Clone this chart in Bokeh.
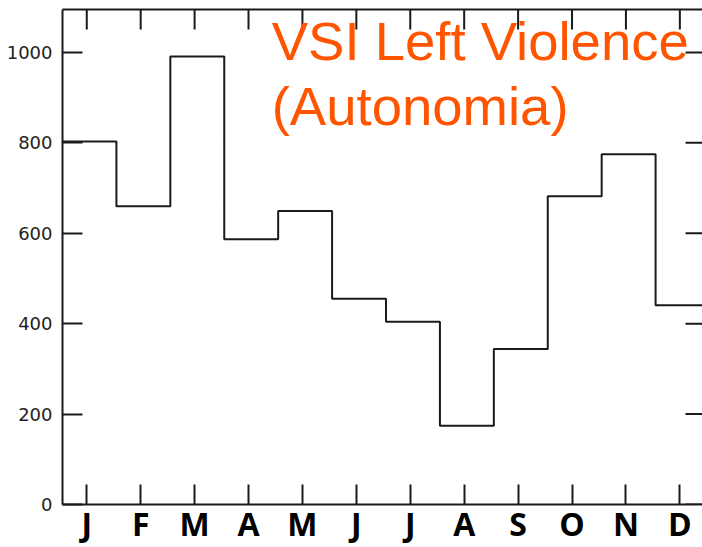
from bokeh.plotting import figure
from bokeh.models import LinearAxis, FixedTicker, Label
from bokeh.embed import file_html
from bokeh.resources import INLINE

# ---- data ----
months = ["J", "F", "M", "A", "M", "J", "J", "A", "S", "O", "N", "D"]
values = [803, 660, 991, 587, 649, 455, 404, 174, 344, 682, 775, 441]
y_ticks = [0, 200, 400, 600, 800, 1000]
title_line1 = "VSI Left Violence"
title_line2 = "(Autonomia)"

# step edges: month i occupies [i, i+1]
step_x = list(range(len(values) + 1))
step_y = values + values[-1:]
tick_offset = 0.45
month_ticks = [i + tick_offset for i in range(len(months))]
month_overrides = {t: m for t, m in zip(month_ticks, months)}

X_END = 11.87
Y_END = 1095

INK = "#1a1a1a"
ORANGE = "#FF5500"

p = figure(width=702, height=547, x_range=(0, X_END), y_range=(0, Y_END),
           output_backend="svg", toolbar_location=None,
           x_axis_location=None, y_axis_location=None,
           min_border_left=62, min_border_right=0, min_border_top=9,
           min_border_bottom=43)
p.xgrid.visible = False
p.ygrid.visible = False
p.outline_line_color = None
p.background_fill_color = "white"
p.border_fill_color = "white"

common = dict(axis_line_color=INK, axis_line_width=2, major_tick_line_color=INK,
              major_tick_line_width=2, minor_tick_line_color=None, major_tick_out=0)

left = LinearAxis(ticker=FixedTicker(ticks=y_ticks), major_tick_in=20,
                  major_label_text_font="DejaVu Sans", major_label_text_font_size="18px",
                  major_label_text_color="#222222", major_label_standoff=10, **common)
bottom = LinearAxis(ticker=FixedTicker(ticks=month_ticks), major_label_overrides=month_overrides,
                    major_tick_in=20, major_label_text_font="Open Sans",
                    major_label_text_font_style="bold", major_label_text_font_size="32px",
                    major_label_text_color="black", major_label_standoff=-3, **common)
top = LinearAxis(ticker=FixedTicker(ticks=[]), major_label_standoff=0, **common)

p.add_layout(left, "left")
p.add_layout(bottom, "below")
p.add_layout(top, "above")

# inward month ticks on the top edge, value ticks on the right edge
p.ray(x=month_ticks, y=[Y_END] * len(month_ticks), length=20, length_units="screen",
      angle=270, angle_units="deg", line_color=INK, line_width=2)
p.ray(x=[X_END] * len(y_ticks), y=y_ticks, length=17, length_units="screen",
      angle=180, angle_units="deg", line_color=INK, line_width=2)

p.step(step_x, step_y, mode="after", line_color=INK, line_width=2)

p.add_layout(Label(x=3.88, y=1024, text=title_line1, text_font="Liberation Sans",
                   text_font_size="54.5px", text_color=ORANGE, text_baseline="alphabetic"))
p.add_layout(Label(x=3.88, y=880, text=title_line2, text_font="Liberation Sans",
                   text_font_size="54.5px", text_color=ORANGE, text_baseline="alphabetic"))

open("out.html", "w").write(file_html(p, INLINE))
